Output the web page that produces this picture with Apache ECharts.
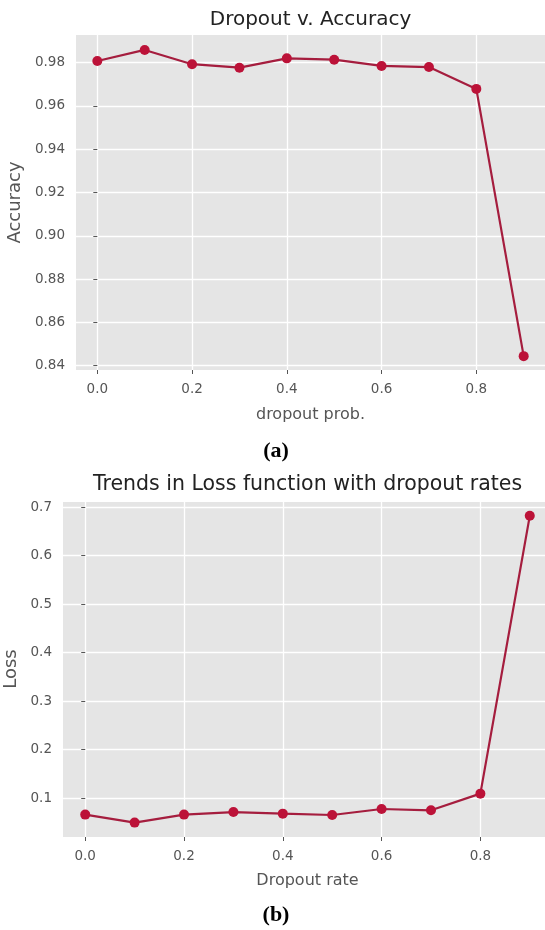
<!DOCTYPE html>
<html><head><meta charset="utf-8">
<script src="https://cdn.jsdelivr.net/npm/echarts@6/dist/echarts.min.js"></script>
<style>html,body{margin:0;padding:0;background:#fff}#c{width:545px;height:930px}</style>
</head><body><div id="c"></div>
<script>
const dropout = [0.0, 0.1, 0.2, 0.3, 0.4, 0.5, 0.6, 0.7, 0.8, 0.9];
const accuracy = [0.9808, 0.9859, 0.9793, 0.9777, 0.9820, 0.9814, 0.9785, 0.9780, 0.9679, 0.8444];
const loss = [0.0658, 0.0493, 0.0658, 0.0711, 0.0678, 0.0650, 0.0773, 0.0746, 0.1090, 0.6820];
const xTicks = [0.0, 0.2, 0.4, 0.6, 0.8];
const accTicks = [0.84, 0.86, 0.88, 0.90, 0.92, 0.94, 0.96, 0.98];
const lossTicks = [0.1, 0.2, 0.3, 0.4, 0.5, 0.6, 0.7];
const titleA = 'Dropout v. Accuracy';
const titleB = 'Trends in Loss function with dropout rates';
const xNameA = 'dropout prob.';
const xNameB = 'Dropout rate';
const yNameA = 'Accuracy';
const yNameB = 'Loss';

const FONT = '"DejaVu Sans", sans-serif';
const tickCol = '#555555';
const markerCol = '#bc1238';
const lineCol = '#a51d3e';

function xAxisCfg(gi) {
  return {
    type: 'value', gridIndex: gi, min: -0.045, max: 0.945,
    axisLine: {show: false},
    axisTick: {show: true, length: 4, customValues: xTicks, lineStyle: {color: tickCol, width: 1}},
    axisLabel: {customValues: xTicks, formatter: v => v.toFixed(1), color: tickCol, fontFamily: FONT, fontSize: 13.5, margin: 12},
    splitLine: {show: true, lineStyle: {color: '#ffffff', width: 1.3}}
  };
}
function yAxisCfg(gi, min, max, ticks, dec) {
  return {
    type: 'value', gridIndex: gi, min: min, max: max,
    axisLine: {show: false},
    axisTick: {show: true, length: 4, customValues: ticks, lineStyle: {color: tickCol, width: 1}},
    axisLabel: {customValues: ticks, formatter: v => v.toFixed(dec), color: tickCol, fontFamily: FONT, fontSize: 13.5, margin: 11},
    splitLine: {show: true, lineStyle: {color: '#ffffff', width: 1.3}}
  };
}
function series(xi, vals) {
  return {
    type: 'line', xAxisIndex: xi, yAxisIndex: xi,
    data: dropout.map((x, i) => [x, vals[i]]),
    symbol: 'circle', symbolSize: 10, showAllSymbol: true,
    itemStyle: {color: markerCol},
    lineStyle: {color: lineCol, width: 2.2},
    emphasis: {disabled: true}
  };
}
function txt(text, x, y, font, fill, rot) {
  return {type: 'text', x: x, y: y, rotation: rot || 0,
    style: {text: text, font: font, fill: fill, align: 'center', verticalAlign: 'middle'}};
}

const chart = echarts.init(document.getElementById('c'), null, {renderer: 'canvas'});
chart.setOption({
  animation: false,
  backgroundColor: '#ffffff',
  grid: [
    {left: 76, top: 35, width: 469, height: 335, show: true, backgroundColor: '#e5e5e5', borderWidth: 0, containLabel: false, outerBoundsMode: 'none'},
    {left: 63, top: 502, width: 489, height: 335, show: true, backgroundColor: '#e5e5e5', borderWidth: 0, containLabel: false, outerBoundsMode: 'none'}
  ],
  xAxis: [xAxisCfg(0), xAxisCfg(1)],
  yAxis: [yAxisCfg(0, 0.838, 0.9928, accTicks, 2), yAxisCfg(1, 0.0196, 0.7105, lossTicks, 1)],
  series: [series(0, accuracy), series(1, loss)],
  graphic: [
    txt(titleA, 310.5, 20, '20px ' + FONT, '#222222'),
    txt(titleB, 307.5, 485, '20.5px ' + FONT, '#222222'),
    txt(xNameA, 310.5, 415, '16px ' + FONT, tickCol),
    txt(xNameB, 307.5, 881, '16px ' + FONT, tickCol),
    txt(yNameA, 15, 202.5, '18px ' + FONT, tickCol, Math.PI / 2),
    txt(yNameB, 11, 669, '18px ' + FONT, tickCol, Math.PI / 2),
    txt('(a)', 276, 451, 'bold 22px "Liberation Serif", serif', '#000000'),
    txt('(b)', 276, 915, 'bold 22px "Liberation Serif", serif', '#000000')
  ]
});
</script>
</body></html>
